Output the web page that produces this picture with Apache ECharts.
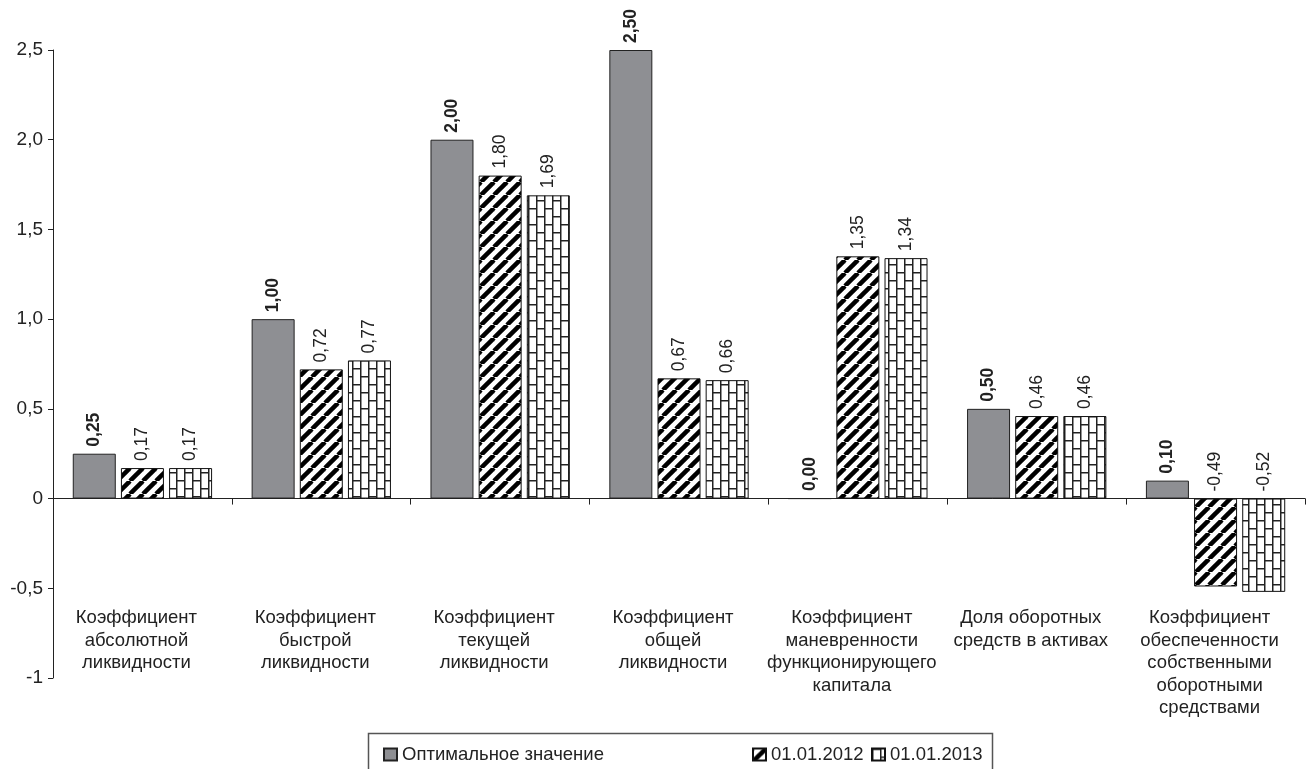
<!DOCTYPE html>
<html><head><meta charset="utf-8">
<script src="https://cdn.jsdelivr.net/npm/echarts@6/dist/echarts.min.js"></script>
<style>html,body{margin:0;padding:0;background:#fff}#c{width:1314px;height:769px}</style>
</head><body><div id="c"></div>
<script>
const categories = [
  'Коэффициент\nабсолютной\nликвидности',
  'Коэффициент\nбыстрой\nликвидности',
  'Коэффициент\nтекущей\nликвидности',
  'Коэффициент\nобщей\nликвидности',
  'Коэффициент\nманевренности\nфункционирующего\nкапитала',
  'Доля оборотных\nсредств в активах',
  'Коэффициент\nобеспеченности\nсобственными\nоборотными\nсредствами'
];
const seriesNames = ['Оптимальное значение', '01.01.2012', '01.01.2013'];
const optimal = [0.25, 1.00, 2.00, 2.50, 0.00, 0.50, 0.10];
const v2012 = [0.17, 0.72, 1.80, 0.67, 1.35, 0.46, -0.49];
const v2013 = [0.17, 0.77, 1.69, 0.66, 1.34, 0.46, -0.52];
const yMin = -1, yMax = 2.5, yStep = 0.5;
const yTickLabels = ['-1', '-0,5', '0', '0,5', '1,0', '1,5', '2,0', '2,5'];

const FONT = '"Liberation Sans", Arial, sans-serif';
const TXT = '#222';

function stripeCanvas() {
  const s = 13, c = document.createElement('canvas');
  c.width = s; c.height = s;
  const g = c.getContext('2d');
  g.fillStyle = '#fff'; g.fillRect(0, 0, s, s);
  g.strokeStyle = '#000'; g.lineWidth = 4.5;
  for (const k of [-s, 0, s]) {
    g.beginPath(); g.moveTo(k, s); g.lineTo(k + s, 0); g.stroke();
  }
  return c;
}
function brickCanvas() {
  const w = 16, h = 16, c = document.createElement('canvas');
  c.width = w; c.height = h;
  const g = c.getContext('2d');
  g.fillStyle = '#fff'; g.fillRect(0, 0, w, h);
  g.fillStyle = '#222';
  g.fillRect(0, 0, 1.5, h);
  g.fillRect(8, 0, 1.5, h);
  g.fillRect(0, 0, 8, 1.5);
  g.fillRect(8, 8, 8, 1.5);
  return c;
}

const fmt2 = p => p.value.toFixed(2).replace('.', ',');
function labelCfg(bold) {
  return {
    show: true, position: 'top', rotate: 90, align: 'left', verticalAlign: 'middle',
    distance: 7, formatter: fmt2, fontSize: 17.5, fontFamily: FONT, color: TXT,
    fontWeight: bold ? 'bold' : 'normal'
  };
}

const chart = echarts.init(document.getElementById('c'), null, {renderer: 'canvas'});
const legendLefts = [383, 752, 871];
chart.setOption({
  animation: false,
  backgroundColor: '#fff',
  grid: {left: 53, right: 9, top: 50, bottom: 91, containLabel: false},
  xAxis: [
    {
      type: 'category', data: categories, position: 'bottom',
      axisLine: {show: true, onZero: true, lineStyle: {color: '#222', width: 1}},
      axisTick: {show: true, length: 6, lineStyle: {color: '#222'}},
      axisLabel: {show: false}, splitLine: {show: false}
    },
    {
      type: 'category', data: categories, position: 'bottom', offset: -71,
      axisLine: {show: false, onZero: false}, axisTick: {show: false},
      axisLabel: {
        show: true, interval: 0, margin: 0, fontSize: 18.5, lineHeight: 22.5,
        fontFamily: FONT, color: TXT, align: 'center', verticalAlign: 'top',
        padding: [0, 12, 0, 0]
      },
      splitLine: {show: false}
    }
  ],
  yAxis: {
    type: 'value', min: yMin, max: yMax, interval: yStep,
    axisLine: {show: true, lineStyle: {color: '#222', width: 1}},
    axisTick: {show: true, length: 5, lineStyle: {color: '#222'}},
    splitLine: {show: false},
    axisLabel: {
      margin: 10, fontSize: 19, fontFamily: FONT, color: TXT,
      formatter: v => yTickLabels[Math.round((v - yMin) / yStep)]
    }
  },
  legend: seriesNames.map((n, i) => ({
    data: [n], left: legendLefts[i], top: 745, orient: 'horizontal',
    itemWidth: 13, itemHeight: 12, padding: 0, selectedMode: false,
    icon: 'rect',
    textStyle: {fontSize: 18.5, fontFamily: FONT, color: TXT}
  })),
  graphic: [{
    type: 'rect', shape: {x: 368.5, y: 733.5, width: 624, height: 60},
    style: {fill: 'none', stroke: '#555', lineWidth: 1.5}, silent: true, z: 100
  }],
  series: [
    {
      name: seriesNames[0], type: 'bar', data: optimal, barWidth: 43, barGap: '12%',
      itemStyle: {color: '#8e8f93', borderColor: '#222', borderWidth: 1},
      label: labelCfg(true)
    },
    {
      name: seriesNames[1], type: 'bar', data: v2012, barWidth: 43, barGap: '12%',
      itemStyle: {color: {image: stripeCanvas(), repeat: 'repeat'}, borderColor: '#111', borderWidth: 1},
      label: labelCfg(false)
    },
    {
      name: seriesNames[2], type: 'bar', data: v2013, barWidth: 43, barGap: '12%',
      itemStyle: {color: {image: brickCanvas(), repeat: 'repeat'}, borderColor: '#111', borderWidth: 1},
      label: labelCfg(false)
    }
  ]
});
</script></body></html>
